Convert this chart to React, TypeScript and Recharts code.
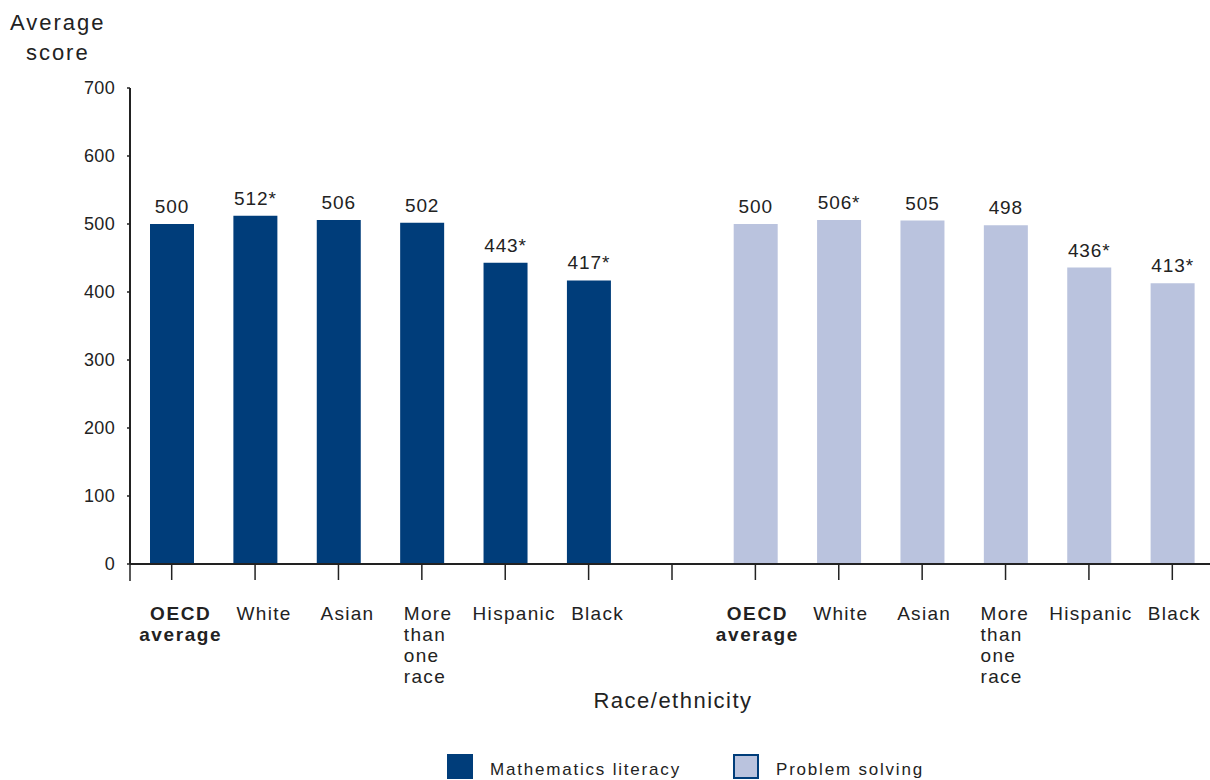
import { BarChart, Bar, XAxis, YAxis, LabelList } from "recharts";

const categoryLines: string[][] = [
  ["OECD", "average"],
  ["White"],
  ["Asian"],
  ["More", "than", "one", "race"],
  ["Hispanic"],
  ["Black"],
  [],
  ["OECD", "average"],
  ["White"],
  ["Asian"],
  ["More", "than", "one", "race"],
  ["Hispanic"],
  ["Black"],
];

const mathScores = [500, 512, 506, 502, 443, 417];
const mathLabels = ["500", "512*", "506", "502", "443*", "417*"];
const solvingScores = [500, 506, 505, 498, 436, 413];
const solvingLabels = ["500", "506*", "505", "498", "436*", "413*"];

const yTicks = [0, 100, 200, 300, 400, 500, 600, 700];

const data = categoryLines.map((lines, i) => {
  const j = i - 7;
  return {
    idx: i,
    math: i < 6 ? mathScores[i] : null,
    mathLabel: i < 6 ? mathLabels[i] : "",
    solving: j >= 0 ? solvingScores[j] : null,
    solvingLabel: j >= 0 ? solvingLabels[j] : "",
  };
});

const FONT = "'Liberation Sans', Arial, Helvetica, sans-serif";
const DARK = "#003D7A";
const LIGHT = "#BAC3DE";
const AXIS = "#222";

const CHART_W = 1214;
const LEFT = 130;
const SLOT = (CHART_W - LEFT) / categoryLines.length;

const XTick = (props: any) => {
  const { x, y, payload, index } = props;
  const lines = categoryLines[payload.value] || [];
  const bold = lines[0] === "OECD";
  const multi = lines.length > 2;
  const shift = payload.value < 6 ? 9 : 2;
  const tx = multi ? x - (payload.value < 6 ? 18 : 25) : x + shift;
  return (
    <g>
      {index === 0 && (
        <line x1={x - SLOT / 2} x2={x - SLOT / 2} y1={y - 18} y2={y - 1} stroke={AXIS} strokeWidth={1.5} />
      )}
      <text
        x={tx}
        y={y + 38}
        textAnchor={multi ? "start" : "middle"}
        fontFamily={FONT}
        fontSize={19}
        fontWeight={bold ? 700 : 400}
        letterSpacing={bold ? 1.6 : 1.3}
        fill="#222"
      >
        {lines.map((l, k) => (
          <tspan key={k} x={tx} dy={k === 0 ? 0 : 21}>
            {l}
          </tspan>
        ))}
      </text>
    </g>
  );
};

export default function App() {
  return (
    <div
      style={{
        position: "absolute",
        left: 0,
        top: 0,
        width: 1210,
        height: 780,
        overflow: "hidden",
        background: "#fff",
        fontFamily: FONT,
      }}
    >
      <div style={{ position: "absolute", left: 10, top: 8, fontSize: 22, letterSpacing: 2, color: "#222", lineHeight: "30px", textAlign: "center" }}>
        Average
        <br />
        score
      </div>
      <BarChart
        width={CHART_W}
        height={780}
        data={data}
        margin={{ top: 88, right: 0, left: 70, bottom: 76 }}
        barCategoryGap={0}
      >
        <XAxis
          dataKey="idx"
          height={140}
          interval={0}
          tickSize={16}
          tickMargin={2}
          tickLine={{ stroke: AXIS, strokeWidth: 1.5 }}
          axisLine={{ stroke: AXIS, strokeWidth: 2 }}
          tick={<XTick />}
        />
        <YAxis
          width={60}
          domain={[0, 700]}
          ticks={yTicks}
          interval={0}
          tickSize={3}
          tickMargin={12}
          tickLine={{ stroke: AXIS, strokeWidth: 1.5 }}
          axisLine={{ stroke: AXIS, strokeWidth: 2 }}
          tick={{ fontFamily: FONT, fontSize: 18, fill: "#222", letterSpacing: 0.3 }}
        />
        <Bar dataKey="math" stackId="s" fill={DARK} barSize={44} isAnimationActive={false}>
          <LabelList
            dataKey="mathLabel"
            position="top"
            offset={11}
            style={{ fontFamily: FONT, fontSize: 19, fill: "#222", letterSpacing: 0.9 }}
          />
        </Bar>
        <Bar dataKey="solving" stackId="s" fill={LIGHT} barSize={44} isAnimationActive={false}>
          <LabelList
            dataKey="solvingLabel"
            position="top"
            offset={11}
            style={{ fontFamily: FONT, fontSize: 19, fill: "#222", letterSpacing: 0.9 }}
          />
        </Bar>
      </BarChart>
      <div
        style={{
          position: "absolute",
          left: 0,
          width: 1346,
          top: 688,
          textAlign: "center",
          fontSize: 22,
          letterSpacing: 1.5,
          color: "#222",
        }}
      >
        Race/ethnicity
      </div>
      <div style={{ position: "absolute", left: 447, top: 752, display: "flex", alignItems: "center", fontSize: 17, letterSpacing: 1.8, color: "#222" }}>
        <div style={{ width: 26, height: 25, background: DARK, marginRight: 17 }} />
        <span style={{ marginTop: 8 }}>Mathematics literacy</span>
      </div>
      <div style={{ position: "absolute", left: 733, top: 752, display: "flex", alignItems: "center", fontSize: 17, letterSpacing: 1.8, color: "#222" }}>
        <div style={{ width: 22, height: 21, background: LIGHT, border: `2px solid ${DARK}`, marginRight: 17 }} />
        <span style={{ marginTop: 8 }}>Problem solving</span>
      </div>
    </div>
  );
}
